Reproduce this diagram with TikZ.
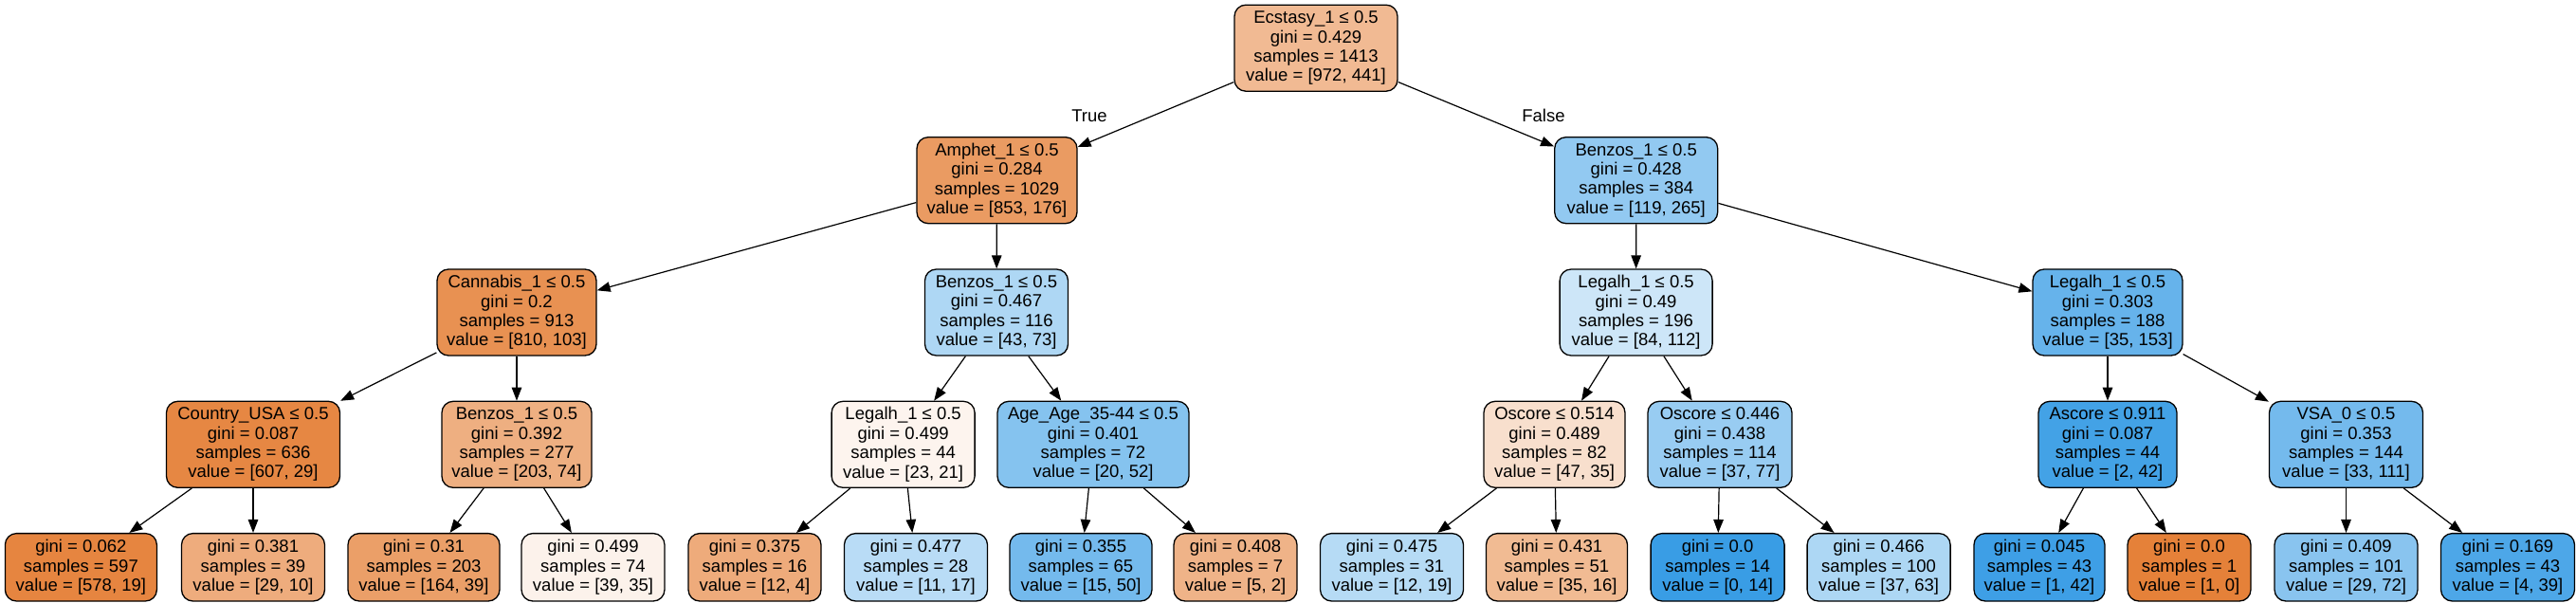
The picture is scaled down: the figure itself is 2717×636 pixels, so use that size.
\documentclass[tikz,border=0pt]{standalone}
\usepackage{fontspec}
\setmainfont{Liberation Sans}
\usetikzlibrary{arrows.meta}
\definecolor{ocol}{HTML}{E58139}
\definecolor{bcol}{HTML}{399DE5}
\tikzset{
  box/.style={draw=black, line width=1.3pt, rounded corners=12pt, align=center,
    inner xsep=2pt, inner ysep=0pt, font=\fontsize{18.5pt}{20.4pt}\selectfont},
  splitbox/.style={box, minimum height=91pt},
  leafbox/.style={box, minimum height=71.4pt},
  arr/.style={draw=black, line width=1.2pt, -{Triangle[length=14pt,width=10.5pt]}},
  elabel/.style={font=\fontsize{18.5pt}{20.4pt}\selectfont, inner sep=0pt}
}
\begin{document}
\begin{tikzpicture}[x=1pt,y=1pt]
\useasboundingbox (0,0) rectangle (2717,-636);
% level 0
\node[splitbox, minimum width=172pt, fill=ocol!54.6] (n0) at (1388,-50.7) {Ecstasy\_1 ≤ 0.5\\gini = 0.429\\samples = 1413\\value = [972, 441]};
% level 1
\node[splitbox, minimum width=169pt, fill=ocol!79.4] (n1) at (1051.5,-190.2) {Amphet\_1 ≤ 0.5\\gini = 0.284\\samples = 1029\\value = [853, 176]};
\node[splitbox, minimum width=172pt, fill=bcol!55.1] (n2) at (1725.7,-190.2) {Benzos\_1 ≤ 0.5\\gini = 0.428\\samples = 384\\value = [119, 265]};
% level 2
\node[splitbox, minimum width=168pt, fill=ocol!87.3] (n3) at (545,-329.5) {Cannabis\_1 ≤ 0.5\\gini = 0.2\\samples = 913\\value = [810, 103]};
\node[splitbox, minimum width=151pt, fill=bcol!41.1] (n4) at (1051,-329.5) {Benzos\_1 ≤ 0.5\\gini = 0.467\\samples = 116\\value = [43, 73]};
\node[splitbox, minimum width=161pt, fill=bcol!25] (n5) at (1725.6,-329.5) {Legalh\_1 ≤ 0.5\\gini = 0.49\\samples = 196\\value = [84, 112]};
\node[splitbox, minimum width=158pt, fill=bcol!77.1] (n6) at (2223,-329.5) {Legalh\_1 ≤ 0.5\\gini = 0.303\\samples = 188\\value = [35, 153]};
% level 3
\node[splitbox, minimum width=183pt, fill=ocol!95.2] (n7) at (267,-468.8) {Country\_USA ≤ 0.5\\gini = 0.087\\samples = 636\\value = [607, 29]};
\node[splitbox, minimum width=158pt, fill=ocol!63.5] (n8) at (545,-468.8) {Benzos\_1 ≤ 0.5\\gini = 0.392\\samples = 277\\value = [203, 74]};
\node[splitbox, minimum width=151pt, fill=ocol!8.7] (n9) at (952.6,-468.8) {Legalh\_1 ≤ 0.5\\gini = 0.499\\samples = 44\\value = [23, 21]};
\node[splitbox, minimum width=202pt, fill=bcol!61.5] (n10) at (1153,-468.8) {Age\_Age\_35-44 ≤ 0.5\\gini = 0.401\\samples = 72\\value = [20, 52]};
\node[splitbox, minimum width=149pt, fill=ocol!25.5] (n11) at (1639.5,-468.8) {Oscore ≤ 0.514\\gini = 0.489\\samples = 82\\value = [47, 35]};
\node[splitbox, minimum width=152pt, fill=bcol!51.9] (n12) at (1814,-468.8) {Oscore ≤ 0.446\\gini = 0.438\\samples = 114\\value = [37, 77]};
\node[splitbox, minimum width=146pt, fill=bcol!95.2] (n13) at (2223,-468.8) {Ascore ≤ 0.911\\gini = 0.087\\samples = 44\\value = [2, 42]};
\node[splitbox, minimum width=162pt, fill=bcol!70.3] (n14) at (2474.5,-468.8) {VSA\_0 ≤ 0.5\\gini = 0.353\\samples = 144\\value = [33, 111]};
% leaves
\node[leafbox, minimum width=160pt, fill=ocol!96.7] (l1) at (85.4,-598.3) {gini = 0.062\\samples = 597\\value = [578, 19]};
\node[leafbox, minimum width=151pt, fill=ocol!65.5] (l2) at (267,-598.3) {gini = 0.381\\samples = 39\\value = [29, 10]};
\node[leafbox, minimum width=160pt, fill=ocol!76.2] (l3) at (447,-598.3) {gini = 0.31\\samples = 203\\value = [164, 39]};
\node[leafbox, minimum width=151pt, fill=ocol!10.3] (l4) at (625.5,-598.3) {gini = 0.499\\samples = 74\\value = [39, 35]};
\node[leafbox, minimum width=140pt, fill=ocol!66.7] (l5) at (796,-598.3) {gini = 0.375\\samples = 16\\value = [12, 4]};
\node[leafbox, minimum width=151pt, fill=bcol!35.3] (l6) at (966,-598.3) {gini = 0.477\\samples = 28\\value = [11, 17]};
\node[leafbox, minimum width=150pt, fill=bcol!70] (l7) at (1140,-598.3) {gini = 0.355\\samples = 65\\value = [15, 50]};
\node[leafbox, minimum width=130pt, fill=ocol!60] (l8) at (1303,-598.3) {gini = 0.408\\samples = 7\\value = [5, 2]};
\node[leafbox, minimum width=151pt, fill=bcol!36.8] (l9) at (1468,-598.3) {gini = 0.475\\samples = 31\\value = [12, 19]};
\node[leafbox, minimum width=149pt, fill=ocol!54.3] (l10) at (1642,-598.3) {gini = 0.431\\samples = 51\\value = [35, 16]};
\node[leafbox, minimum width=141pt, fill=bcol] (l11) at (1811.6,-598.3) {gini = 0.0\\samples = 14\\value = [0, 14]};
\node[leafbox, minimum width=151pt, fill=bcol!41.3] (l12) at (1981.6,-598.3) {gini = 0.466\\samples = 100\\value = [37, 63]};
\node[leafbox, minimum width=138pt, fill=bcol!97.6] (l13) at (2151,-598.3) {gini = 0.045\\samples = 43\\value = [1, 42]};
\node[leafbox, minimum width=130pt, fill=ocol] (l14) at (2309,-598.3) {gini = 0.0\\samples = 1\\value = [1, 0]};
\node[leafbox, minimum width=151pt, fill=bcol!59.7] (l15) at (2474.5,-598.3) {gini = 0.409\\samples = 101\\value = [29, 72]};
\node[leafbox, minimum width=141pt, fill=bcol!89.7] (l16) at (2645,-598.3) {gini = 0.169\\samples = 43\\value = [4, 39]};
% edges
\draw[arr] (n0) -- (n1);
\draw[arr] (n0) -- (n2);
\node[elabel] (tlab) at (1149,-122) {True};
\node[elabel] (flab) at (1628,-122) {False};
\draw[arr] (n1) -- (n3);
\draw[arr] (n1) -- (n4);
\draw[arr] (n2) -- (n5);
\draw[arr] (n2) -- (n6);
\draw[arr] (n3) -- (n7);
\draw[arr] (n3) -- (n8);
\draw[arr] (n4) -- (n9);
\draw[arr] (n4) -- (n10);
\draw[arr] (n5) -- (n11);
\draw[arr] (n5) -- (n12);
\draw[arr] (n6) -- (n13);
\draw[arr] (n6) -- (n14);
\draw[arr] (n7) -- (l1);
\draw[arr] (n7) -- (l2);
\draw[arr] (n8) -- (l3);
\draw[arr] (n8) -- (l4);
\draw[arr] (n9) -- (l5);
\draw[arr] (n9) -- (l6);
\draw[arr] (n10) -- (l7);
\draw[arr] (n10) -- (l8);
\draw[arr] (n11) -- (l9);
\draw[arr] (n11) -- (l10);
\draw[arr] (n12) -- (l11);
\draw[arr] (n12) -- (l12);
\draw[arr] (n13) -- (l13);
\draw[arr] (n13) -- (l14);
\draw[arr] (n14) -- (l15);
\draw[arr] (n14) -- (l16);
\end{tikzpicture}
\end{document}
